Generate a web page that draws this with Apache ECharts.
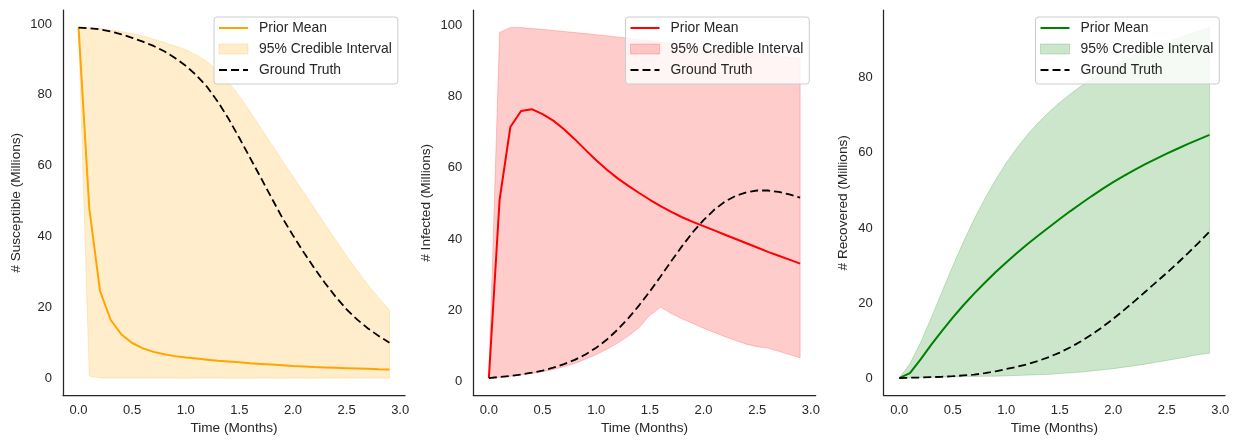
<!DOCTYPE html>
<html><head><meta charset="utf-8">
<script src="https://cdn.jsdelivr.net/npm/echarts@6/dist/echarts.min.js"></script>
<style>html,body{margin:0;padding:0;background:#fff}#c{width:1239px;height:448px}</style>
</head><body><div id="c"></div>
<script>
// ---- data ----
const time = [0,0.1,0.2,0.3,0.4,0.5,0.6,0.7,0.8,0.9,1.0,1.1,1.2,1.3,1.4,1.5,1.6,1.7,1.8,1.9,2.0,2.1,2.2,2.3,2.4,2.5,2.6,2.7,2.8,2.9];
const xTicks = [0,0.5,1.0,1.5,2.0,2.5,3.0];
const sTicks = [0,20,40,60,80,100];
const iTicks = [0,20,40,60,80,100];
const rTicks = [0,20,40,60,80];
const legendLabels = ['Prior Mean','95% Credible Interval','Ground Truth'];
const xName = 'Time (Months)';
const yNames = ['# Susceptible (Millions)','# Infected (Millions)','# Recovered (Millions)'];

const sMean  = [99,48,24.6,16.4,12.3,9.9,8.4,7.4,6.7,6.2,5.8,5.5,5.2,4.9,4.7,4.5,4.2,4.0,3.8,3.6,3.4,3.3,3.1,3.0,2.9,2.8,2.7,2.6,2.5,2.45];
const sLow   = [99,0.6,0,0,0,0,0,0,0,0,0,0,0,0,0,0,0,0,0,0,0,0,0,0,0,0,0,0,0,0];
const sHigh  = [99,98.9,98.7,98.3,97.8,97.3,96.6,95.7,94.8,93.8,92.7,91.2,89.3,86.8,83.5,79.6,75.2,70.6,66.0,61.4,56.9,52.4,47.9,43.4,38.9,34.5,30.3,26.3,22.6,19.2];
const sTruth = [99.0,98.8,98.5,97.9,97.1,96.1,95.0,93.8,92.3,90.4,88.2,85.5,82.2,78.0,73.2,67.8,62.2,56.6,50.9,45.3,40.3,35.5,31.0,26.8,22.9,19.4,16.5,14.0,11.9,10.0];

const iMean  = [1.0,51,71.4,75.9,76.4,75.0,73.2,70.8,68.0,65.0,62.1,59.4,57.0,54.9,52.9,51.0,49.2,47.6,46.1,44.8,43.6,42.4,41.2,40.0,38.8,37.6,36.4,35.3,34.2,33.1];
const iLow   = [1.0,1.2,1.5,1.9,2.3,2.8,3.4,4.2,5.1,6.3,7.6,9.1,10.8,12.8,15.2,18.6,20.9,19.1,17.6,16.3,15.0,13.8,12.6,11.5,10.5,9.8,9.4,8.5,7.6,6.7];
const iHigh  = [1.0,97.9,99.3,99.3,99.0,98.8,98.5,98.2,97.9,97.6,97.3,97.0,96.6,96.3,95.9,95.6,95.2,94.9,94.5,94.2,93.8,93.4,93.1,92.7,92.4,92.1,91.7,91.4,91.0,90.7];
const iTruth = [1.0,1.3,1.6,2.0,2.5,3.1,3.9,4.9,6.1,7.6,9.5,11.8,14.6,17.8,21.4,25.3,29.5,33.8,38.0,41.9,45.3,48.2,50.5,52.1,53.1,53.6,53.6,53.2,52.5,51.6];

const rMean  = [0,1.3,5.0,8.9,12.6,16.1,19.4,22.5,25.4,28.2,30.8,33.3,35.7,38.0,40.2,42.4,44.5,46.5,48.5,50.4,52.2,53.9,55.5,57.0,58.4,59.8,61.1,62.4,63.6,64.8];
const rLow   = [0,0.1,0.2,0.2,0.3,0.3,0.4,0.4,0.5,0.5,0.6,0.7,0.8,0.9,1.0,1.2,1.4,1.6,1.9,2.2,2.5,2.9,3.3,3.7,4.2,4.7,5.2,5.7,6.3,6.6];
const rHigh  = [0,3.8,9.5,16.1,23.0,29.8,36.3,42.3,47.8,52.8,57.3,61.3,64.9,68.1,70.9,73.4,75.7,77.8,79.7,81.4,83.0,84.5,85.9,87.2,88.4,89.5,90.5,91.5,92.45,93.4];
const rTruth = [0,0.1,0.15,0.25,0.35,0.5,0.7,0.9,1.3,1.8,2.4,3.0,3.7,4.6,5.6,6.8,8.2,9.8,11.6,13.6,15.8,18.1,20.5,23.0,25.5,28.0,30.6,33.3,36.1,39.0];

// ---- layout / style ----
const FONT = '"Liberation Sans", Arial, sans-serif';
const INK = '#262626';
const panels = [
  {mean:sMean, low:sLow, high:sHigh, truth:sTruth, ticks:sTicks, yName:yNames[0],
   color:'#ffa500', band:'rgba(255,165,0,0.2)', left:63, width:342, ymin:-4.95, ymax:103.95, nameGap:40, legendLeft:214},
  {mean:iMean, low:iLow, high:iHigh, truth:iTruth, ticks:iTicks, yName:yNames[1],
   color:'#ff0000', band:'rgba(255,0,0,0.2)', left:473.3, width:342.4, ymin:-3.92, ymax:104.22, nameGap:40.5, legendLeft:625.5},
  {mean:rMean, low:rLow, high:rHigh, truth:rTruth, ticks:rTicks, yName:yNames[2],
   color:'#008000', band:'rgba(0,128,0,0.2)', left:883.7, width:341.3, ymin:-4.67, ymax:98.07, nameGap:33.5, legendLeft:1035.5}
];

const grid = [], xAxis = [], yAxis = [], series = [], legend = [];
panels.forEach((p, k) => {
  grid.push({left:p.left, width:p.width, top:10, height:385.6});
  xAxis.push({
    type:'value', gridIndex:k, min:-0.145, max:3.045,
    name:xName, nameLocation:'middle', nameGap:26,
    nameTextStyle:{fontFamily:FONT, fontSize:13.6, color:INK},
    axisLine:{onZero:false, lineStyle:{color:INK, width:1.25}},
    axisTick:{show:false},
    splitLine:{show:false},
    axisLabel:{customValues:xTicks, formatter:v => v.toFixed(1), fontFamily:FONT, fontSize:13, color:INK, margin:8}
  });
  yAxis.push({
    type:'value', gridIndex:k, min:p.ymin, max:p.ymax,
    name:p.yName, nameLocation:'middle', nameGap:p.nameGap, nameRotate:90,
    nameTextStyle:{fontFamily:FONT, fontSize:13.6, color:INK},
    axisLine:{show:true, onZero:false, lineStyle:{color:INK, width:1.25}},
    axisTick:{show:false},
    splitLine:{show:false},
    axisLabel:{customValues:p.ticks, formatter:v => String(v), fontFamily:FONT, fontSize:13, color:INK, margin:11}
  });
  // credible band polygon
  series.push({
    type:'custom', name:legendLabels[1] + '#' + k, xAxisIndex:k, yAxisIndex:k,
    itemStyle:{color:p.band},
    data: time.map((t, i) => [t, p.low[i], p.high[i]]),
    encode:{x:0, y:[1,2]},
    z:1,
    renderItem(params, api) {
      if (params.dataIndex !== 0) return null;
      const pts = [];
      for (let i = 0; i < time.length; i++) pts.push(api.coord([time[i], p.high[i]]));
      for (let i = time.length - 1; i >= 0; i--) pts.push(api.coord([time[i], p.low[i]]));
      return {type:'polygon', shape:{points:pts}, style:{fill:p.band, stroke:p.band, lineWidth:1}, silent:true};
    }
  });
  series.push({
    type:'line', name:legendLabels[0] + '#' + k, xAxisIndex:k, yAxisIndex:k,
    data: time.map((t, i) => [t, p.mean[i]]),
    symbol:'none', smooth:false, z:3,
    itemStyle:{color:p.color},
    lineStyle:{color:p.color, width:2}
  });
  series.push({
    type:'line', name:legendLabels[2] + '#' + k, xAxisIndex:k, yAxisIndex:k,
    data: time.map((t, i) => [t, p.truth[i]]),
    symbol:'none', smooth:false, z:4,
    itemStyle:{color:'#000'},
    lineStyle:{color:'#000', width:1.8, type:[8,4]}
  });
  legend.push({
    orient:'vertical', left:p.legendLeft, top:17, align:'left',
    data:[
      {name:legendLabels[0] + '#' + k, itemStyle:{opacity:0}},
      {name:legendLabels[1] + '#' + k, icon:'rect', itemStyle:{color:p.band, borderColor:p.band, borderWidth:1}},
      {name:legendLabels[2] + '#' + k, itemStyle:{opacity:0}}
    ],
    formatter: n => n.split('#')[0],
    itemWidth:29, itemHeight:10, itemGap:7,
    textStyle:{fontFamily:FONT, fontSize:13.9, color:INK, lineHeight:14, padding:[0,0,0,6]},
    backgroundColor:'rgba(255,255,255,0.8)', borderColor:'#cccccc', borderWidth:1, borderRadius:3,
    padding:[4,6,7,4],
    selectedMode:false
  });
});

const chart = echarts.init(document.getElementById('c'), null, {renderer:'canvas'});
chart.setOption({animation:false, backgroundColor:'#fff', grid, xAxis, yAxis, series, legend});
</script></body></html>
